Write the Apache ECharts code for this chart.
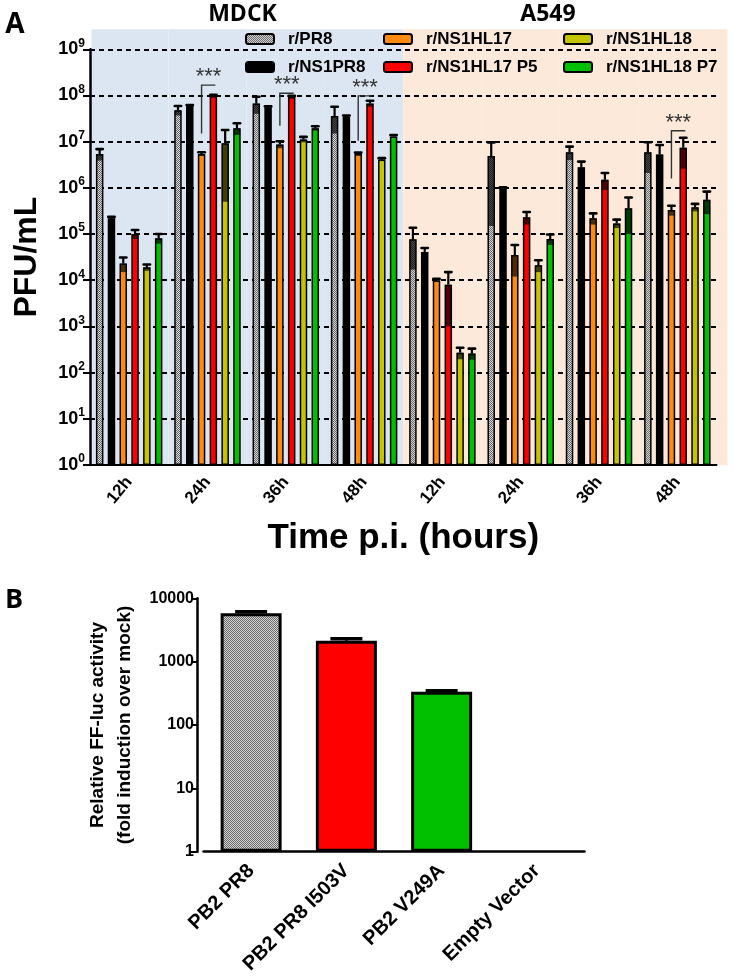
<!DOCTYPE html>
<html><head><meta charset="utf-8">
<script src="https://cdn.jsdelivr.net/npm/echarts@6/dist/echarts.min.js"></script>
<style>html,body{margin:0;padding:0;background:#fff}#c{width:733px;height:979px}</style>
</head><body><div id="c"></div>
<script>
// ---------- Panel A data ----------
const timeLabels = ['12h','24h','36h','48h','12h','24h','36h','48h'];
const cellLines = ['MDCK','MDCK','MDCK','MDCK','A549','A549','A549','A549'];
const seriesNames = ['r/PR8','r/NS1PR8','r/NS1HL17','r/NS1HL17 P5','r/NS1HL18','r/NS1HL18 P7'];
const pr8Mean      = [5.4e6, 4.8e7, 6.7e7, 3.6e7, 7.7e4, 4.9e6, 5.9e6, 5.9e6];
const pr8SD        = [1.5e6, 1.1e7, 2.7e7, 2.1e7, 6.0e4, 4.75e6, 1.9e6, 3.8e6];
const ns1pr8Mean   = [2.2e5, 5.9e7, 5.5e7, 3.5e7, 4.1e4, 9.8e5, 2.8e6, 5.3e6];
const ns1pr8SD     = [1.5e4, 3.0e6, 3.0e6, 2.0e6, 9.0e3, 5.0e4, 9.0e5, 3.2e6];
const hl17Mean     = [2.3e4, 5.4e6, 8.7e6, 5.4e6, 1.0e4, 3.5e4, 2.2e5, 3.3e5];
const hl17SD       = [8.0e3, 5.0e5, 1.5e6, 4.0e5, 8.0e2, 2.3e4, 6.0e4, 8.0e4];
const hl17p5Mean   = [1.0e5, 9.8e7, 9.3e7, 6.7e7, 8.0e3, 2.3e5, 1.5e6, 7.4e6];
const hl17p5SD     = [2.2e4, 5.0e6, 5.0e6, 1.0e7, 7.0e3, 7.0e4, 6.0e5, 4.8e6];
const hl18Mean     = [1.9e4, 9.2e6, 1.12e7, 4.1e6, 2.7e2, 2.1e4, 1.7e5, 3.8e5];
const hl18SD       = [3.0e3, 8.7e6, 1.5e6, 3.0e5, 75, 6.0e3, 3.5e4, 7.0e4];
const hl18p7Mean   = [8.1e4, 1.95e7, 1.95e7, 1.3e7, 2.6e2, 7.8e4, 3.6e5, 5.5e5];
const hl18p7SD     = [1.9e4, 5.5e6, 2.0e6, 1.0e6, 70, 2.0e4, 2.6e5, 2.8e5];
// significance brackets (category index, bracket low, bracket high)
const sigCategories = [1, 2, 3, 7];
const sigLow  = [1.5e7, 2.2e7, 1.05e7, 1.6e6];
const sigHigh = [1.68e8, 1.12e8, 9.8e7, 1.73e7];
const sigText = '***';
// ---------- Panel B data ----------
const pb2Categories = ['PB2 PR8','PB2 PR8 I503V','PB2 V249A','Empty Vector'];
const pb2Mean = [5800, 2140, 336, 1];
const pb2SD   = [350, 150, 10, 0];

// ---------- styles ----------
const FONT = '"Liberation Sans", Arial, sans-serif';
const TITLE_FONT = '"Open Sans", "Liberation Sans", sans-serif';
function makePattern() {
  const c = document.createElement('canvas'); c.width = 2; c.height = 2;
  const g = c.getContext('2d');
  g.fillStyle = '#d4d4d4'; g.fillRect(0,0,2,2);
  g.fillStyle = '#6a6a6a'; g.fillRect(0,0,1,1); g.fillRect(1,1,1,1);
  return {image: c, repeat: 'repeat'};
}
const grayPattern = makePattern();
const barColors = [grayPattern, '#000000', '#FF8A10', '#FF0000', '#C4C400', '#00C000'];
const pb2Colors = [grayPattern, '#FF0000', '#00C000', '#FFFFFF'];
const bgColors = {MDCK: '#DCE6F2', A549: '#FDE9D9'};
const BAR_W = 7.5, BAR_GAP = 0.573, PITCH = BAR_W * (1 + BAR_GAP);

const meanArrays = [pr8Mean, ns1pr8Mean, hl17Mean, hl17p5Mean, hl18Mean, hl18p7Mean];
const sdArrays = [pr8SD, ns1pr8SD, hl17SD, hl17p5SD, hl18SD, hl18p7SD];

function errRender(k) {
  return function (params, api) {
    const ci = api.value(0), m = api.value(1), s = api.value(2);
    const c = api.coord([ci, m]);
    const x = c[0] + (k - 2.5) * PITCH;
    const yM = c[1];
    const yU = api.coord([ci, m + s])[1];
    const yL = api.coord([ci, Math.max(m - s, 1)])[1];
    const w = BAR_W - 1;
    return {type: 'group', children: [
      {type: 'rect', shape: {x: x - w / 2, y: yM, width: w, height: Math.max(yL - yM, 0)}, style: {fill: 'rgba(0,0,0,0.68)'}},
      {type: 'line', shape: {x1: x, y1: yM, x2: x, y2: yU}, style: {stroke: '#000', lineWidth: 2.2}},
      {type: 'line', shape: {x1: x - 3.2, y1: yU, x2: x + 3.2, y2: yU}, style: {stroke: '#000', lineWidth: 2.6, lineCap: 'round'}}
    ]};
  };
}

const series = [];
series.push({
  type: 'custom', name: 'bg', xAxisIndex: 0, yAxisIndex: 0, z: -1, silent: true, clip: false,
  data: cellLines.map((c, i) => [i, 1]),
  encode: {x: 0, y: 1},
  renderItem: function (params, api) {
    const ci = api.value(0);
    const cs = params.coordSys;
    const bw = api.coord([1, 1])[0] - api.coord([0, 1])[0];
    const cx = api.coord([ci, 1])[0];
    let x0 = cx - bw / 2, x1 = cx + bw / 2;
    if (ci === 0) x0 = cs.x + 1.5;
    if (ci === cellLines.length - 1) x1 = cs.x + cs.width + 11;
    return {type: 'rect', shape: {x: x0, y: cs.y - 20, width: x1 - x0, height: cs.height + 20},
      style: {fill: bgColors[cellLines[ci]]}};
  }
});
seriesNames.forEach((name, k) => {
  series.push({
    type: 'bar', name: name, xAxisIndex: 0, yAxisIndex: 0,
    data: meanArrays[k], barWidth: BAR_W, barGap: (BAR_GAP * 100) + '%',
    itemStyle: {color: barColors[k], borderColor: '#000', borderWidth: 1.5},
    silent: true
  });
});
seriesNames.forEach((name, k) => {
  series.push({
    type: 'custom', name: 'err' + k, xAxisIndex: 0, yAxisIndex: 0, z: 3, silent: true, clip: false,
    data: meanArrays[k].map((m, i) => [i, m, sdArrays[k][i]]),
    encode: {x: 0, y: 1},
    renderItem: errRender(k)
  });
});
series.push({
  type: 'custom', name: 'sig', xAxisIndex: 0, yAxisIndex: 0, z: 4, silent: true, clip: false,
  data: sigCategories.map((c, i) => [c, sigLow[i], sigHigh[i]]),
  encode: {x: 0, y: [1, 2]},
  renderItem: function (params, api) {
    const ci = api.value(0);
    const x1 = api.coord([ci, 1])[0] + (2 - 2.5) * PITCH;
    const x2 = x1 + PITCH + 2;
    const yl = api.coord([ci, api.value(1)])[1];
    const yh = api.coord([ci, api.value(2)])[1];
    return {type: 'group', children: [
      {type: 'polyline', shape: {points: [[x1, yl], [x1, yh], [x2, yh]]}, style: {stroke: '#333', lineWidth: 1.4, fill: null}},
      {type: 'text', x: (x1 + x2) / 2, y: yh - 19, style: {text: sigText, fontSize: 22, fontFamily: FONT, fill: '#333', align: 'center', verticalAlign: 'top'}}
    ]};
  }
});
// Panel B
series.push({
  type: 'bar', name: 'PB2', xAxisIndex: 1, yAxisIndex: 1, barWidth: 61, silent: true,
  data: pb2Mean.map((v, i) => ({value: v, itemStyle: {color: pb2Colors[i], borderWidth: v > 1 ? 3 : 0}})),
  itemStyle: {borderColor: '#000', borderWidth: 3}
});
series.push({
  type: 'custom', name: 'pb2err', xAxisIndex: 1, yAxisIndex: 1, z: 3, silent: true, clip: false,
  data: pb2Mean.map((m, i) => [i, m, pb2SD[i]]),
  encode: {x: 0, y: 1},
  renderItem: function (params, api) {
    const ci = api.value(0), m = api.value(1), s = api.value(2);
    if (!s) return null;
    const c = api.coord([ci, m]);
    const yU = api.coord([ci, m + s])[1];
    return {type: 'group', children: [
      {type: 'line', shape: {x1: c[0], y1: c[1], x2: c[0], y2: yU}, style: {stroke: '#000', lineWidth: 3}},
      {type: 'line', shape: {x1: c[0] - 16, y1: yU, x2: c[0] + 16, y2: yU}, style: {stroke: '#000', lineWidth: 3.5}}
    ]};
  }
});

const legendCommon = {
  orient: 'vertical', itemWidth: 28, itemHeight: 10, itemGap: 10, padding: 0, icon: 'roundRect',
  selectedMode: false,
  textStyle: {fontFamily: FONT, fontWeight: 'bold', fontSize: 17, lineHeight: 18, color: '#000', padding: [0, 0, 0, 9]}
};

const option = {
  animation: false,
  backgroundColor: '#ffffff',
  grid: [
    {left: 90, right: 16.5, top: 49.3, height: 415.7, outerBoundsMode: 'none'},
    {left: 203.5, right: 148.5, top: 598.3, height: 253.4, outerBoundsMode: 'none'}
  ],
  legend: [
    Object.assign({data: [seriesNames[0], seriesNames[1]], left: 245, top: 30}, legendCommon),
    Object.assign({data: [seriesNames[2], seriesNames[3]], left: 383, top: 30}, legendCommon),
    Object.assign({data: [seriesNames[4], seriesNames[5]], left: 563, top: 30}, legendCommon)
  ],
  xAxis: [
    {type: 'category', gridIndex: 0, data: timeLabels,
      axisLine: {lineStyle: {color: '#000', width: 2}},
      axisTick: {alignWithLabel: true, length: 8, lineStyle: {color: '#000', width: 2}},
      axisLabel: {rotate: 50, fontFamily: FONT, fontWeight: 'bold', fontSize: 17, color: '#000', margin: 14, interval: 0},
      name: 'Time p.i. (hours)', nameLocation: 'middle', nameGap: 56,
      nameTextStyle: {fontFamily: FONT, fontWeight: 'bold', fontSize: 35, color: '#000'}
    },
    {type: 'category', gridIndex: 1, data: pb2Categories,
      axisLine: {lineStyle: {color: '#000', width: 2.5}},
      axisTick: {alignWithLabel: true, length: 7, lineStyle: {color: '#000', width: 2.5}},
      axisLabel: {rotate: 45, fontFamily: FONT, fontWeight: 'bold', fontSize: 20, color: '#000', margin: 16, interval: 0}
    }
  ],
  yAxis: [
    {type: 'log', gridIndex: 0, logBase: 10, min: 1, max: 1e9, interval: 1, splitNumber: 9,
      axisLine: {show: true, lineStyle: {color: '#000', width: 2.5}},
      axisTick: {show: true, length: 7, lineStyle: {color: '#000', width: 2}},
      splitLine: {show: true, lineStyle: {color: '#000', width: 2, type: [5, 4]}},
      axisLabel: {margin: 5, formatter: function (v) { return '{b|10}{s|' + Math.round(Math.log10(v)) + '}'; },
        rich: {b: {fontFamily: FONT, fontWeight: 'bold', fontSize: 18, color: '#000', lineHeight: 24},
               s: {fontFamily: FONT, fontWeight: 'bold', fontSize: 12, color: '#000', verticalAlign: 'top', lineHeight: 14}}},
      name: 'PFU/mL', nameLocation: 'middle', nameRotate: 90, nameGap: 47,
      nameTextStyle: {fontFamily: FONT, fontWeight: 'bold', fontSize: 32, color: '#000'}
    },
    {type: 'log', gridIndex: 1, logBase: 10, min: 1, max: 10000, interval: 1, splitNumber: 4, offset: 6.5,
      axisLine: {show: true, lineStyle: {color: '#000', width: 2.5}},
      axisTick: {show: true, length: 6, lineStyle: {color: '#000', width: 2}},
      splitLine: {show: false},
      axisLabel: {margin: 3, fontFamily: FONT, fontWeight: 'bold', fontSize: 16, color: '#000',
        formatter: function (v) { return String(Math.round(v)); }},
      name: 'Relative FF-luc activity\n(fold induction over mock)', nameLocation: 'middle', nameRotate: 90, nameGap: 58,
      nameTextStyle: {fontFamily: FONT, fontWeight: 'bold', fontSize: 19, lineHeight: 27, color: '#000'}
    }
  ],
  graphic: [
    {type: 'text', x: 15, y: 25, style: {text: 'A', fontFamily: TITLE_FONT, fontWeight: 'bold', fontSize: 28, fill: '#000', align: 'center', verticalAlign: 'middle'}},
    {type: 'text', x: 14, y: 600, style: {text: 'B', fontFamily: TITLE_FONT, fontWeight: 'bold', fontSize: 27, fill: '#000', align: 'center', verticalAlign: 'middle'}},
    {type: 'text', x: 242.5, y: 14, style: {text: 'MDCK', fontFamily: TITLE_FONT, fontWeight: 'bold', fontSize: 23, fill: '#000', align: 'center', verticalAlign: 'middle'}},
    {type: 'text', x: 548, y: 14, style: {text: 'A549', fontFamily: TITLE_FONT, fontWeight: 'bold', fontSize: 23, fill: '#000', align: 'center', verticalAlign: 'middle'}}
  ],
  series: series
};
const chart = echarts.init(document.getElementById('c'), null, {renderer: 'canvas'});
chart.setOption(option);
</script></body></html>
